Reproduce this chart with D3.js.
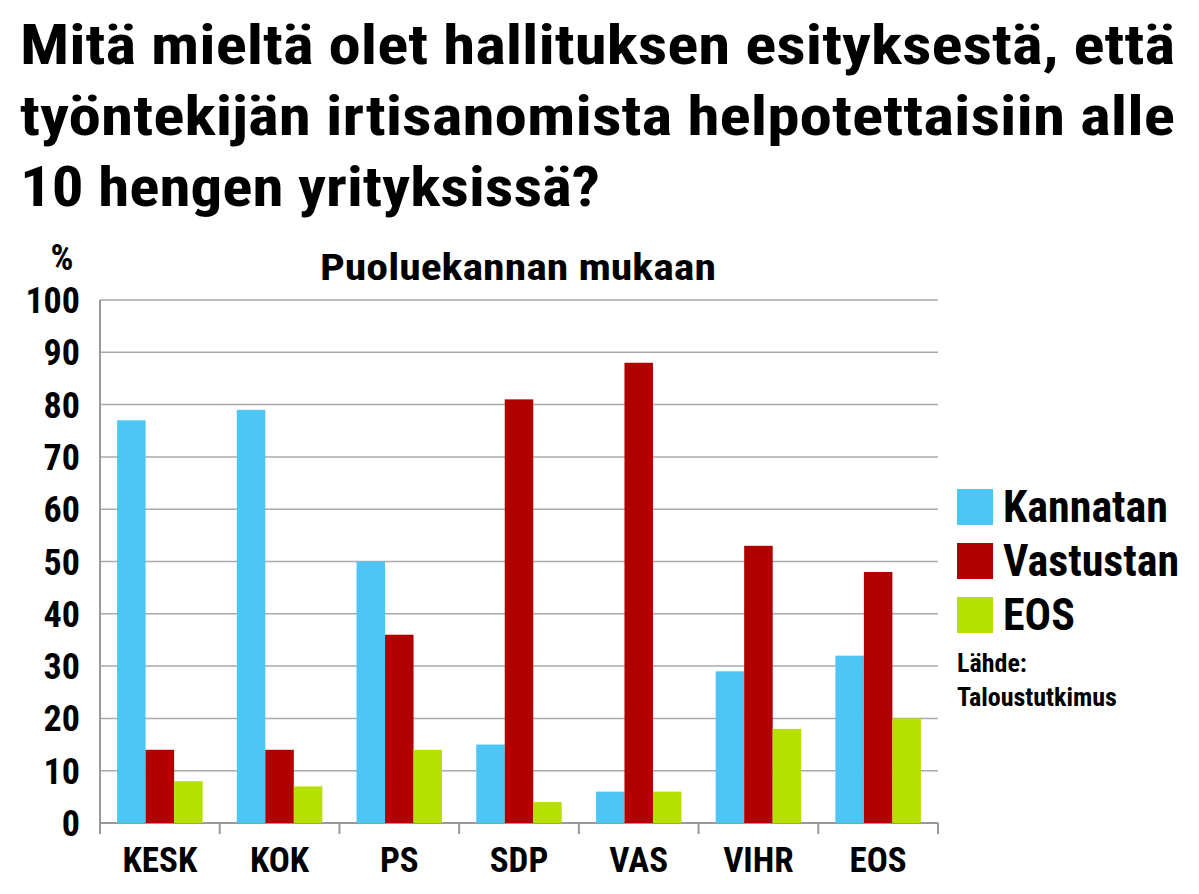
<!DOCTYPE html><html><head><meta charset="utf-8">
<script src="https://cdn.jsdelivr.net/npm/d3@7"></script>
<style>body{margin:0;background:#fff}text{font-family:"Liberation Sans Narrow","Roboto Condensed","Liberation Sans",sans-serif;font-weight:bold}</style>
</head><body><svg id="c" width="1199" height="894"></svg><script>
const categories=["KESK","KOK","PS","SDP","VAS","VIHR","EOS"];
const series=["Kannatan","Vastustan","EOS"];
const kannatan=[77,79,50,15,6,29,32];
const vastustan=[14,14,36,81,88,53,48];
const eos=[8,7,14,4,6,18,20];
const colors=["#4ec6f5","#b00000","#b6e000"];
const yTicks=[0,10,20,30,40,50,60,70,80,90,100];
const vals=[kannatan,vastustan,eos];
const svg=d3.select("#c");
[["Mitä mieltä olet hallituksen esityksestä, että",1155],["työntekijän irtisanomista helpotettaisiin alle",1155],["10 hengen yrityksissä?",580]].forEach((t,i)=>
 svg.append("text").attr("x",20).attr("y",64+i*71).attr("font-size",56).attr("textLength",t[1]).attr("lengthAdjust","spacingAndGlyphs").text(t[0]));
const x=d3.scaleBand().domain(categories).range([100,938]);
const y=d3.scaleLinear().domain([0,100]).range([823,300]);
const xi=d3.scaleBand().domain(series).range([0,x.bandwidth()]).paddingOuter(0.6).paddingInner(0);
svg.append("g").selectAll("line").data(yTicks.slice(1)).join("line").attr("x1",100).attr("x2",938)
 .attr("y1",d=>y(d)).attr("y2",d=>y(d)).attr("stroke","#aaa").attr("stroke-width",1.5);
svg.append("line").attr("x1",100).attr("x2",100).attr("y1",300).attr("y2",823).attr("stroke","#999").attr("stroke-width",2);
svg.append("line").attr("x1",100).attr("x2",938).attr("y1",823).attr("y2",823).attr("stroke","#999").attr("stroke-width",2);
svg.append("g").selectAll("line").data(d3.range(categories.length+1)).join("line")
 .attr("x1",i=>100+i*x.step()).attr("x2",i=>100+i*x.step()).attr("y1",823).attr("y2",834).attr("stroke","#999").attr("stroke-width",2);
svg.append("g").selectAll("text").data(yTicks).join("text").attr("x",80).attr("y",d=>y(d)+13)
 .attr("text-anchor","end").attr("font-size",36).text(d=>d);
svg.append("text").attr("x",62).attr("y",270).attr("text-anchor","middle").attr("font-size",36).text("%");
svg.append("text").attr("x",320).attr("y",280).attr("font-size",36).attr("textLength",396).attr("lengthAdjust","spacingAndGlyphs").text("Puoluekannan mukaan");
categories.forEach((c,ci)=>{
 series.forEach((s,si)=>{
  svg.append("rect").attr("x",x(c)+xi(s)).attr("width",xi.bandwidth()).attr("y",y(vals[si][ci]))
   .attr("height",y(0)-y(vals[si][ci])).attr("fill",colors[si]);
 });
 svg.append("text").attr("x",x(c)+x.bandwidth()/2).attr("y",872).attr("text-anchor","middle").attr("font-size",35).text(c);
});
series.forEach((s,i)=>{
 svg.append("rect").attr("x",957).attr("y",489+i*54).attr("width",36).attr("height",36).attr("fill",colors[i]);
 svg.append("text").attr("x",1003).attr("y",522+i*54).attr("font-size",44).text(s);
});
svg.append("text").attr("x",957).attr("y",672).attr("font-size",26).text("Lähde:");
svg.append("text").attr("x",957).attr("y",706).attr("font-size",26).text("Taloustutkimus");
</script></body></html>
